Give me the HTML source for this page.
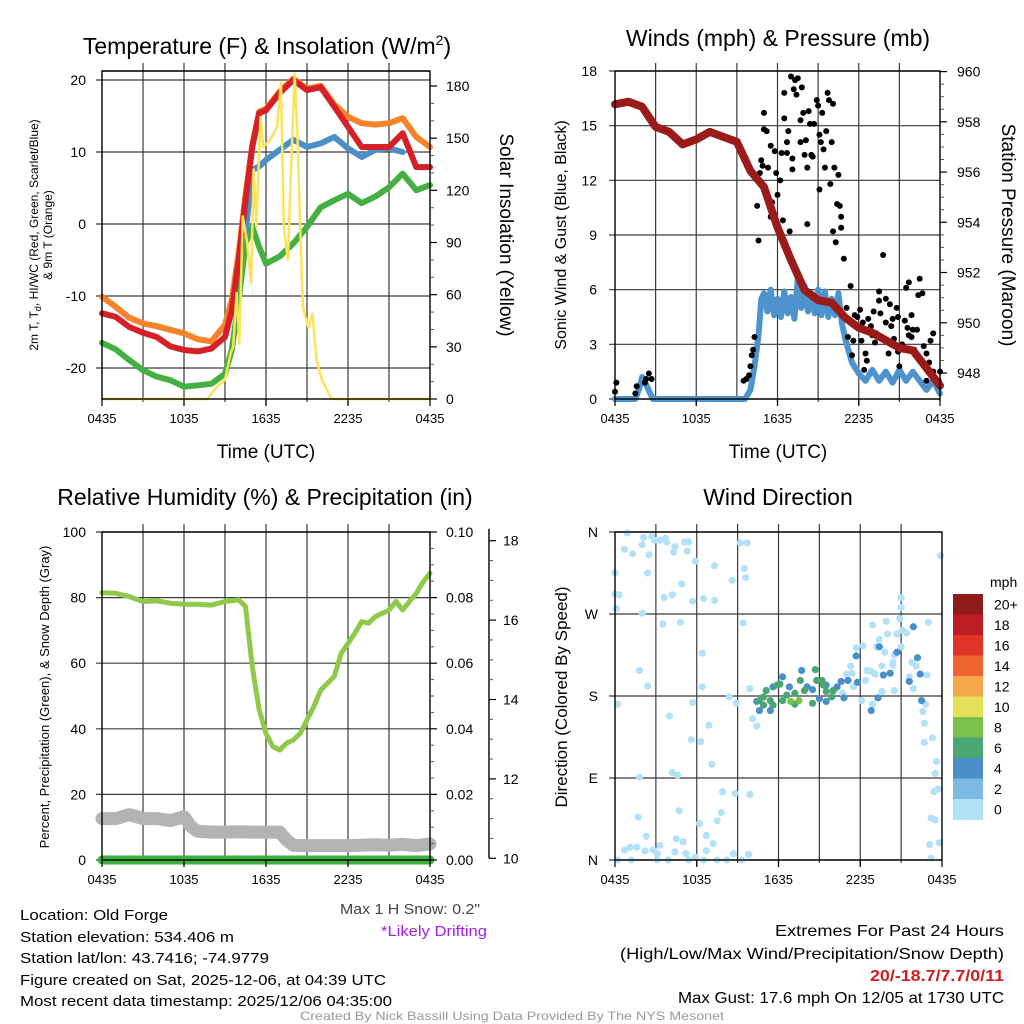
<!DOCTYPE html>
<html><head><meta charset="utf-8"><style>
html,body{margin:0;padding:0;background:#fff;}
svg{display:block;font-family:"Liberation Sans",Arial,sans-serif;}
</style></head><body>
<svg id="chart" width="1024" height="1024" viewBox="0 0 1024 1024" xmlns="http://www.w3.org/2000/svg">
<rect width="1024" height="1024" fill="#fff"/>
<g id="grids"></g>
<g id="series"></g>
<g id="axes"></g>
<g id="texts" fill="#000">
<text x="267" y="54" font-size="23" text-anchor="middle">Temperature (F) &amp; Insolation (W/m<tspan dy="-9" font-size="14">2</tspan><tspan dy="9">)</tspan></text>
<text x="778" y="46" font-size="23" text-anchor="middle">Winds (mph) &amp; Pressure (mb)</text>
<text x="265" y="505" font-size="23" text-anchor="middle">Relative Humidity (%) &amp; Precipitation (in)</text>
<text x="778" y="505" font-size="23" text-anchor="middle">Wind Direction</text>
<text x="266" y="458" font-size="19" text-anchor="middle">Time (UTC)</text>
<text x="778" y="458" font-size="19" text-anchor="middle">Time (UTC)</text>
<text transform="translate(38,235) rotate(-90)" font-size="12" text-anchor="middle">2m T, T<tspan dy="3" font-size="9">d</tspan><tspan dy="-3">, HI/WC (Red, Green, Scarlet/Blue)</tspan></text>
<text transform="translate(52,235) rotate(-90)" font-size="12" text-anchor="middle">&amp; 9m T (Orange)</text>
<text transform="translate(500,235) rotate(90)" font-size="19" text-anchor="middle">Solar Insolation (Yellow)</text>
<text transform="translate(566,235) rotate(-90)" font-size="16" text-anchor="middle">Sonic Wind &amp; Gust (Blue, Black)</text>
<text transform="translate(1002,235) rotate(90)" font-size="19" text-anchor="middle">Station Pressure (Maroon)</text>
<text transform="translate(49,697) rotate(-90)" font-size="13" text-anchor="middle">Percent, Precipitation (Green), &amp; Snow Depth (Gray)</text>
<text transform="translate(567,697) rotate(-90)" font-size="17" text-anchor="middle">Direction (Colored By Speed)</text>
<text x="480" y="914" font-size="15" text-anchor="end" fill="#444" textLength="140" lengthAdjust="spacingAndGlyphs">Max 1 H Snow: 0.2"</text>
<text x="487" y="936" font-size="15" text-anchor="end" fill="#a020f0" textLength="106" lengthAdjust="spacingAndGlyphs">*Likely Drifting</text>
<text x="20" y="920" font-size="15" textLength="148" lengthAdjust="spacingAndGlyphs">Location: Old Forge</text>
<text x="20" y="942" font-size="15" textLength="214" lengthAdjust="spacingAndGlyphs">Station elevation: 534.406 m</text>
<text x="20" y="963" font-size="15" textLength="249" lengthAdjust="spacingAndGlyphs">Station lat/lon: 43.7416; -74.9779</text>
<text x="20" y="985" font-size="15" textLength="366" lengthAdjust="spacingAndGlyphs">Figure created on Sat, 2025-12-06, at 04:39 UTC</text>
<text x="20" y="1006" font-size="15" textLength="372" lengthAdjust="spacingAndGlyphs">Most recent data timestamp: 2025/12/06 04:35:00</text>
<text x="1004" y="936" font-size="16" text-anchor="end" textLength="229" lengthAdjust="spacingAndGlyphs">Extremes For Past 24 Hours</text>
<text x="1004" y="959" font-size="16" text-anchor="end" textLength="384" lengthAdjust="spacingAndGlyphs">(High/Low/Max Wind/Precipitation/Snow Depth)</text>
<text x="1004" y="981" font-size="16" font-weight="bold" text-anchor="end" fill="#cc1f1f" textLength="134" lengthAdjust="spacingAndGlyphs">20/-18.7/7.7/0/11</text>
<text x="1004" y="1003" font-size="16" text-anchor="end" textLength="326" lengthAdjust="spacingAndGlyphs">Max Gust: 17.6 mph On 12/05 at 1730 UTC</text>
<text x="512" y="1020" font-size="12" text-anchor="middle" fill="#999" textLength="424" lengthAdjust="spacingAndGlyphs">Created By Nick Bassill Using Data Provided By The NYS Mesonet</text>
</g>
<g id="colorbar"></g>
</svg>
<script>
// ---------- DATA ----------
const tempHours = [0,1,2,3,4,5,6,7,8,9,9.5,10,10.5,11,11.5,12,13,14,15,16,17,18,19,20,21,22,23,24];
const tempRed = [-12.4,-12.9,-14.3,-15.1,-15.7,-17,-17.5,-17.7,-17.3,-15.7,-12,-5,3.3,10.7,15.4,15.8,18.2,20,18.6,19,16.3,13.5,10.7,10.7,10.7,12.6,7.9,7.9];
const tempOrange = [-10.1,-11.5,-13,-13.8,-14.2,-14.7,-15.2,-16,-16.3,-14,-10.5,-4,4,11,15.6,16,18.4,20.2,18.8,19.2,16.6,14.9,14,13.8,14,14.7,12.1,10.7];
const dewGreen = [-16.5,-17.4,-18.9,-20.3,-21.2,-21.7,-22.6,-22.4,-22.2,-20.8,-17.5,-10.6,-2.7,-0.4,-3.2,-5.5,-4.5,-2.7,-0.4,2.3,3.3,4.2,2.9,3.8,5.1,7,4.7,5.4];
const windChillBlue = [null,null,null,null,null,null,null,null,null,null,null,null,-1.3,7.5,8,8.9,10.3,11.7,10.7,11.2,12.1,10.5,9.3,10.3,10.5,10.0,null,null];
const insolHours = [0,7.7,8.4,9.0,9.4,9.6,9.85,10.05,10.3,10.6,10.9,11.1,11.3,11.6,11.8,12.3,12.8,13.1,13.3,13.6,13.9,14.1,14.3,14.5,14.7,15.1,15.4,15.7,16.1,16.8,24];
const insolValues = [0,0,7,11,26,30,61,32,105,91,67,132,99,162,145,149,156,182,99,80,147,187,153,99,53,41,49,22,11,0,0];
const tempTicks = [20,10,0,-10,-20];
const insolTicks = [0,30,60,90,120,150,180];
const timeTickLabels = ["0435","1035","1635","2235","0435"];

const windHours = [0,1.5,1.8,2.0,2.3,2.6,2.8,9.6,10,10.3,10.6,10.8,11,11.25,11.5,11.75,12,12.25,12.5,12.75,13,13.25,13.5,13.75,14,14.25,14.5,14.75,15,15.25,15.5,15.75,16,16.25,16.5,16.75,17,17.5,18,18.5,19,19.5,20,20.5,21,21.5,22,22.5,23,23.5,24];
const windSpeed = [0,0,0.6,1.2,0.8,0.3,0,0,0.5,1.8,3.5,5.5,5.8,4.8,6.0,4.6,5.5,4.5,5.9,4.7,5.6,4.4,6.6,5.0,6.2,4.8,5.8,4.7,6.0,4.6,5.9,4.5,5.5,4.6,5.8,4.2,3.3,2.0,1.4,1.0,1.6,1.0,1.5,0.9,1.6,1.0,1.5,1.0,0.5,1.0,0.3];
const gustHours = [0.0,0.1,1.5,1.6,2.2,2.3,2.5,2.7,9.5,9.7,9.9,10.0,10.1,10.2,10.3,10.5,10.6,10.7,10.8,10.9,11.0,11.0,11.2,11.3,11.5,11.5,11.6,11.8,11.9,12.0,12.2,12.3,12.4,12.5,12.5,12.7,12.7,12.8,12.9,13.0,13.1,13.1,13.2,13.3,13.4,13.5,13.7,13.7,13.8,13.9,14.0,14.1,14.2,14.2,14.3,14.4,14.5,14.6,14.7,14.9,15.0,15.1,15.1,15.2,15.3,15.4,15.5,15.6,15.7,15.8,15.9,16.0,16.1,16.1,16.2,16.3,16.4,16.5,16.6,16.7,16.7,16.9,17.4,17.1,17.2,17.5,17.6,17.7,17.9,18.1,18.2,18.3,18.4,18.5,18.6,18.7,18.9,19.0,19.1,19.2,19.3,19.5,19.5,19.6,19.7,19.8,20.0,20.0,20.2,20.3,20.4,20.5,20.6,20.8,20.9,20.9,21.0,21.2,21.4,21.5,21.6,21.7,21.7,21.9,21.9,22.0,22.1,22.3,22.4,22.5,22.7,22.8,23.0,23.0,23.2,23.3,23.5,23.5,23.9,24.0];
const gustValues = [0.4,0.9,0.3,0.7,0.9,1.1,1.4,1.1,1.0,1.1,1.3,1.8,2.4,2.7,3.4,10.6,8.7,12.4,13.1,12.8,14.8,15.7,14.7,12.7,13.9,10.0,10.8,13.6,12.4,11.2,12.0,13.5,9.8,15.4,16.8,13.5,14.1,14.7,9.2,17.7,12.6,13.2,17.0,17.5,16.7,17.6,15.3,14.1,17.1,15.7,13.4,14.2,12.7,9.6,15.8,15.1,13.4,13.3,15.1,16.4,16.1,14.5,11.5,14.1,15.7,13.7,12.7,14.7,16.8,16.4,11.8,14.1,16.2,9.2,12.7,8.6,10.7,12.3,10.6,10.0,9.4,7.7,6.2,5.0,3.4,2.4,3.2,4.6,4.5,4.9,3.2,4.2,1.6,2.5,2.1,4.4,4.0,3.5,4.8,3.1,3.6,5.9,5.4,4.7,3.4,7.9,4.2,5.5,2.5,5.2,4.0,4.4,3.3,5.0,2.6,4.5,1.8,3.0,4.3,6.1,3.9,6.4,3.5,3.4,4.6,3.8,2.7,3.8,5.7,6.6,5.8,2.9,1.0,2.5,2.0,3.2,3.6,1.5,1.0,1.5];
const pressHours = [0,1,2,3,4,5,6,7,8,9,10,11,12,13,14,15,16,17,18,19,20,21,22,23,24];
const pressure = [958.7,958.8,958.6,957.8,957.6,957.1,957.3,957.6,957.4,957.2,956.05,955.4,953.8,952.5,951.3,950.9,950.8,950.2,949.8,949.6,949.3,949.0,948.9,948.2,947.5];
const windTicks = [0,3,6,9,12,15,18];
const pressTicks = [948,950,952,954,956,958,960];

const rhHours = [0,1,2,3,4,5,6,7,8,9,10,10.5,11,11.5,12,12.5,13,13.5,14,14.5,15,15.5,16,16.5,17,17.5,18,18.5,19,19.5,20,20.5,21,21.5,22,22.5,23,23.5,24];
const rhValues = [81.5,81.3,80.3,78.8,79.0,78.3,78.0,78.0,77.7,78.8,79.3,77.3,58.9,45.8,38.6,34.6,33.5,35.6,36.6,38.6,42.7,46.8,51.8,53.9,56.0,63.0,66.0,69.1,72.7,72.2,74.2,75.2,76.2,78.8,76.2,78.8,81.3,84.8,87.4];
const snowHours = [0,1,2,3,4,5,6,6.5,7,8,9,10,11,12,13,13.5,14,15,16,17,18,19,20,21,22,23,24];
const snowDepth = [11.0,11.0,11.1,11.0,11.0,10.95,11.05,10.8,10.68,10.66,10.66,10.67,10.66,10.66,10.66,10.46,10.33,10.32,10.32,10.32,10.32,10.33,10.34,10.33,10.35,10.32,10.36];
const precipHours = [0,24];
const precipValues = [0,0];
const rhTicks = [0,20,40,60,80,100];
const precipTicks = ["0.00","0.02","0.04","0.06","0.08","0.10"];
const snowTicks = [10,12,14,16,18];

const dirHours = [0.0,0.0,0.3,0.1,0.2,0.7,0.9,1.3,2.0,2.1,2.5,2.4,2.7,2.9,3.3,3.7,3.8,4.3,4.4,5.1,5.4,5.3,5.9,7.3,9.2,9.7,9.5,9.6,8.6,4.9,3.6,4.2,5.7,6.5,7.3,2.0,3.5,4.8,9.4,6.4,1.8,2.4,6.4,8.4,8.9,5.7,4.0,6.9,5.6,6.3,7.1,4.2,4.6,1.8,7.9,8.8,9.9,1.7,4.7,7.8,7.5,6.2,2.3,6.7,4.5,5.0,7.2,0.7,1.1,1.6,2.2,2.8,3.3,3.1,4.4,5.2,5.9,6.7,8.7,9.8,0.2,1.2,3.1,3.9,5.4,6.5,7.5,8.2,9.3,
9.9,10.1,10.4,17.3,17.4,17.7,18.2,18.9,19.2,19.4,19.9,20.0,19.6,19.8,20.4,20.5,20.7,20.9,21.0,21.0,21.1,21.4,21.0,18.5,18.8,19.1,18.4,18.1,18.9,19.6,20.5,21.6,21.9,21.8,22.1,22.9,23.0,22.8,22.6,22.7,22.7,23.3,23.6,23.5,23.7,23.4,23.2,23.5,23.1,23.8,23.2,23.9,20.4,17.0,16.7,16.1,17.5,
17.7,19.4,20.7,21.9,22.2,22.4,21.6,22.5,19.7,20.2,18.8,19.3,17.8,17.1,16.6,15.5,10.4,10.6,11.4,11.6,12.3,12.8,13.7,14.1,14.5,15.0,15.5,16.3,16.8,
10.6,10.9,11.1,11.4,11.9,12.1,12.3,12.6,13.2,13.6,13.9,14.5,14.7,14.8,15.2,15.3,15.5,15.9,16.0,13.2,10.9,11.6,12.9,13.5];
const dirDegrees = [315,292,291,276,171,341,359,336,346,354,335,315,355,351,351,353,349,338,344,349,349,339,328,323,348,348,320,310,307,303,288,291,284,287,285,271,259,261,260,227,208,191,190,179,172,173,158,148,132,130,105,96,93,91,75,73,72,47,54,52,43,40,26,27,23,20,18,11,14,14,10,11,16,7,9,7,3,10,7,6,0,0,0,0,0,0,0,0,0,
188,155,147,213,205,233,235,258,234,242,262,248,213,228,214,225,248,265,277,288,252,249,234,208,207,204,197,175,171,185,186,201,188,217,213,203,261,171,163,150,129,134,108,95,78,75,46,44,17,19,2,334,217,204,183,185,190,
224,234,228,256,222,204,196,175,203,205,164,178,195,197,196,174,174,164,164,190,201,190,208,190,187,177,192,190,178,
175,179,186,175,192,193,175,181,171,197,186,172,209,197,197,192,185,179,186,183,170,170,174,175];
const dirSpeeds = [1,1,1,1,1,1,1,1,1,1,1,1,1,1,1,1,1,1,1,1,1,1,1,1,1,1,1,1,1,1,1,1,1,1,1,1,1,1,1,1,1,1,1,1,1,1,1,1,1,1,1,1,1,1,1,1,1,1,1,1,1,1,1,1,1,1,1,1,1,1,1,1,1,1,1,1,1,1,1,1,1,1,1,1,1,1,1,1,1,
1,1,1,1,1,1,1,1,1,1,1,1,1,1,1,1,1,1,1,1,1,1,1,1,1,1,1,1,1,1,1,1,1,1,1,1,1,1,1,1,1,1,1,1,1,1,1,1,1,1,1,1,1,1,1,1,1,
5,5,5,5,5,5,5,5,5,5,5,5,5,5,5,5,5,5,5,5,5,5,5,5,5,5,5,5,5,
7,7,7,7,7,7,7,7,7,7,7,7,7,7,7,7,7,7,7,7,7,7,9,9];
const dirTickLabels = ["N","E","S","W","N"];
const speedBins = ["0","2","4","6","8","10","12","14","16","18","20+"];
const speedColors = ["#b3e1f7","#7cb9e3","#4a8fc8","#4aa672","#7cc04c","#e5e05a","#f6a84a","#f0652e","#df3529","#bd1d24","#8e1a1a"];

// ---------- HELPERS ----------
const NS = "http://www.w3.org/2000/svg";
function mk(tag, attrs, parent){const e=document.createElementNS(NS,tag);for(const k in attrs)e.setAttribute(k,attrs[k]);document.getElementById(parent).appendChild(e);return e;}
function xScale(p,h){return p.x0+h/24*(p.x1-p.x0);}
function linScale(v,d0,d1,r0,r1){return r0+(v-d0)/(d1-d0)*(r1-r0);}

const P1={x0:102,x1:430,y0:71,y1:399};
const P2={x0:615,x1:940,y0:71,y1:399};
const P3={x0:102,x1:430,y0:532,y1:860};
const P4={x0:615,x1:942,y0:532,y1:860};

function yTemp(v){return linScale(v,0,20,224,80);}
function yInsol(v){return linScale(v,0,180,399,86);}
function yWind(v){return linScale(v,0,18,399,71);}
function yPress(v){return linScale(v,948,960,373,71.6);}
function yRH(v){return linScale(v,0,100,860,532);}
function ySnow(v){return linScale(v,10,18,858.3,540.7);}
function yDir(v){return linScale(v,0,360,860,532);}

function linePath(p,hours,vals,yf){
  let d="",pen=false;
  for(let i=0;i<hours.length;i++){
    const v=vals[i];
    if(v===null||v===undefined){pen=false;continue;}
    d+=(pen?"L":"M")+xScale(p,hours[i]).toFixed(1)+","+yf(v).toFixed(1);
    pen=true;
  }
  return d;
}

function frame(p,name,yTickYs,yLabels,labelX){
  for(let k=1;k<8;k++){
    const x=p.x0+k*(p.x1-p.x0)/8;
    const g=mk("line",{x1:x,x2:x,y1:p.y0-8,y2:p.y1+(k%2==0?6:3),stroke:"#3a3a3a","stroke-width":1.2},"grids");
    
    
  }
  const r=mk("rect",{x:p.x0,y:p.y0,width:p.x1-p.x0,height:p.y1-p.y0,fill:"none",stroke:"#000","stroke-width":1.4},"axes");
  
  
  for(let k=0;k<=4;k++){
    const x=p.x0+k*(p.x1-p.x0)/4;
    const t=mk("line",{x1:x,x2:x,y1:p.y1,y2:p.y1+7,stroke:"#000","stroke-width":1.2},"axes");
    
    
    const lab=mk("text",{x:x,y:p.y1+24,"font-size":13,"text-anchor":"middle"},"axes");
    lab.textContent=timeTickLabels[k];
    
    
  }
  for(let i=0;i<yTickYs.length;i++){
    const y=yTickYs[i];
    const g=mk("line",{x1:p.x0-6,x2:p.x1,y1:y,y2:y,stroke:"#3a3a3a","stroke-width":1.2},"grids");
    
    
    const lab=mk("text",{x:labelX,y:y+5,"font-size":14,"text-anchor":"end"},"axes");
    lab.textContent=yLabels[i];
    
    
  }
}
function rightAxis(name,x,ys,labels,labelX,minorYs){
  for(let i=0;i<ys.length;i++){
    const t=mk("line",{x1:x,x2:x+7,y1:ys[i],y2:ys[i],stroke:"#000","stroke-width":1.2},"axes");
    
    
    const lab=mk("text",{x:labelX,y:ys[i]+5,"font-size":14,"text-anchor":"start"},"axes");
    lab.textContent=labels[i];
    
    
  }
  (minorYs||[]).forEach(y=>{
    const t=mk("line",{x1:x,x2:x+4,y1:y,y2:y,stroke:"#555","stroke-width":1},"axes");
    
    
  });
}
function strokeSeries(d,color,w,name){
  const e=mk("path",{d:d,fill:"none",stroke:color,"stroke-width":w,"stroke-linejoin":"round","stroke-linecap":"round"},"series");
  
  
  return e;
}

// ---------- PANEL 1 ----------
frame(P1,"temp",tempTicks.map(yTemp),tempTicks,86);
mk("line",{x1:P1.x0,x2:P1.x1,y1:P1.y0,y2:P1.y0,stroke:"#000","stroke-width":1.2},"axes");
rightAxis("insolation-axis",P1.x1,insolTicks.map(yInsol),insolTicks,446,[10,20,40,50,70,80,100,110,130,140,160,170].map(yInsol));
strokeSeries(linePath(P1,tempHours,tempOrange,yTemp),"#f5832a",6,"nine-m-temp-line");
strokeSeries(linePath(P1,tempHours,dewGreen,yTemp),"#44b043",6,"dewpoint-line");
strokeSeries(linePath(P1,tempHours,windChillBlue,yTemp),"#4a8fc8",6,"windchill-line");
strokeSeries(linePath(P1,tempHours,tempRed,yTemp),"#d42026",6,"temperature-line");
strokeSeries(linePath(P1,insolHours,insolValues,yInsol),"#fbe35a",2.5,"insolation-line");

// ---------- PANEL 2 ----------
frame(P2,"wind",windTicks.map(yWind),windTicks,597);
rightAxis("pressure-axis",P2.x1,pressTicks.map(yPress),pressTicks,957,[949,951,953,955,957,959].map(yPress).concat([948.5,949.5,950.5,951.5,952.5,953.5,954.5,955.5,956.5,957.5,958.5,959.5].map(yPress)));
strokeSeries(linePath(P2,windHours,windSpeed,yWind),"#4d94cf",6,"sustained-wind-line");
for(let i=0;i<gustHours.length;i++){
  const c=mk("circle",{cx:xScale(P2,gustHours[i]),cy:yWind(gustValues[i]),r:3,fill:"#000"},"series");
  
  
}
strokeSeries(linePath(P2,pressHours,pressure,yPress),"#9b1a1a",8,"pressure-line");

// ---------- PANEL 3 ----------
frame(P3,"rh",rhTicks.map(yRH),rhTicks,86);
rightAxis("precip-axis",P3.x1,rhTicks.map(yRH),precipTicks,446,[10,30,50,70,90].map(yRH).concat([5,15,25,35,45,55,65,75,85,95].map(yRH)));
{
  const ax=mk("line",{x1:489,x2:489,y1:ySnow(18.3),y2:ySnow(10),stroke:"#000","stroke-width":1.4},"axes");
  
  
  rightAxis("snow-depth-axis",489,snowTicks.map(ySnow),snowTicks,503,[11,13,15,17,10.5,11.5,12.5,13.5,14.5,15.5,16.5,17.5].map(ySnow));
}
strokeSeries(linePath(P3,snowHours,snowDepth,ySnow),"#b3b3b3",13,"snow-depth-line");
strokeSeries(linePath(P3,precipHours,precipValues,yRH),"#3db03d",9,"precipitation-line");
strokeSeries(linePath(P3,rhHours,rhValues,yRH),"#8fc94a",5,"relative-humidity-line");

// ---------- PANEL 4 ----------
frame(P4,"direction",[0,90,180,270,360].map(yDir),dirTickLabels,598);
for(let i=0;i<dirHours.length;i++){
  const bin=Math.min(10,Math.floor(dirSpeeds[i]/2));
  const c=mk("circle",{cx:xScale(P4,dirHours[i]),cy:yDir(dirDegrees[i]),r:3.6,fill:speedColors[bin]},"series");
  
  
}
{
  const top=594, bh=20.5;
  const u=mk("text",{x:990,y:587,"font-size":14},"colorbar");
  u.textContent="mph";
  
  
  for(let i=0;i<speedBins.length;i++){
    const idx=speedBins.length-1-i;
    const r=mk("rect",{x:953,y:top+i*bh,width:30,height:bh+0.5,fill:speedColors[idx]},"colorbar");
    
    
    const t=mk("text",{x:994,y:top+i*bh+bh/2+5,"font-size":14},"colorbar");
    t.textContent=speedBins[idx];
    
    
  }
}
</script>
</body></html>
